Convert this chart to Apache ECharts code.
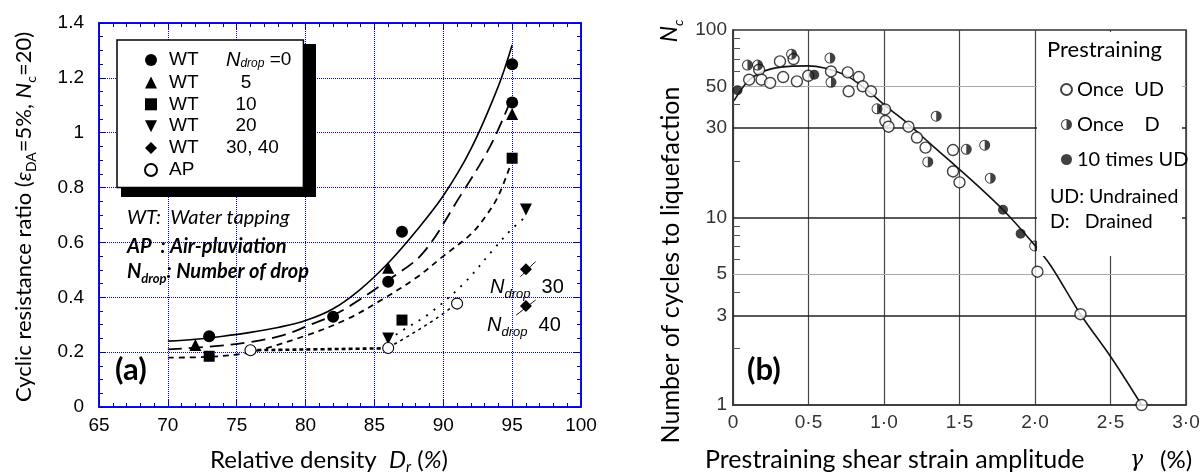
<!DOCTYPE html>
<html><head><meta charset="utf-8">
<script src="https://cdn.jsdelivr.net/npm/echarts@6/dist/echarts.min.js"></script>
<style>html,body{margin:0;padding:0;background:#fff}#c{width:1204px;height:473px}</style>
</head><body><div id="c"></div>
<script>
// ---------- Panel (a): measured points ----------
const wt0   = [[73,0.258],[82,0.329],[86,0.457],[87,0.639],[95,1.25],[95,1.11]];
const wt5   = [[72,0.226],[86,0.508],[95,1.068]];
const wt10  = [[73,0.185],[87,0.317],[95,0.907]];
const wt20  = [[86,0.25],[96,0.72]];
const wt3040 = [[96,0.502],[96,0.368]];
const apPts = [[76,0.207],[86,0.215],[91,0.377]];
// ---------- Panel (a): drawn trend curves ----------
const fitWT0  = [[70,0.24],[72,0.247],[74,0.258],[76,0.272],[78,0.29],[80,0.315],[82,0.358],[84,0.43],[86,0.525],[88,0.64],[90,0.77],[92,0.94],[94,1.17],[95,1.32]];
const fitWT5  = [[70,0.21],[73,0.22],[76,0.237],[78.4,0.262],[80.3,0.299],[82.5,0.347],[86,0.463],[88.5,0.56],[91.2,0.767],[93.4,0.95],[95,1.13]];
const fitWT10 = [[70,0.18],[73,0.183],[76,0.2],[80,0.26],[83,0.32],[85.5,0.39],[88,0.47],[90,0.55],[92,0.63],[93,0.69],[94,0.77],[95,0.9]];
const fitWT20 = [[86,0.245],[87,0.278],[89,0.341],[91.5,0.451],[93.6,0.572],[94.9,0.645],[96,0.694]];
const fitAPflat = [[76,0.207],[86,0.214]];
const fitAP   = [[86,0.216],[87.8,0.269],[89.5,0.323],[91,0.378]];
const leader30 = [[95.6,0.475],[96.7,0.53]];
const leader40 = [[95.3,0.335],[96.7,0.39]];
// ---------- Panel (b) ----------
const onceUD = [[0.107,54.3],[0.173,61.4],[0.189,54.3],[0.246,52.2],[0.311,68],[0.332,56.1],[0.401,70],[0.423,53.2],[0.498,57],[0.649,60.1],[0.76,59.4],[0.766,47.1],[0.833,56.1],[0.859,50.1],[0.914,47.1],[1.007,37.7],[1.009,32.7],[1.03,30.5],[1.162,30.5],[1.218,26.7],[1.275,23.6],[1.457,22.9],[1.457,17.6],[1.5,15.4],[2.016,5.14],[2.301,3.05],[2.706,1.0]];
const onceD  = [[0.096,65],[0.163,65],[0.388,74.3],[0.642,70.8],[0.649,52.6],[0.954,38],[1.29,19.8],[1.346,34.7],[1.545,23.1],[1.667,24.3],[1.704,16.2],[1.998,7.05]];
const tenUD  = [[0.03,47.7],[0.538,57.7],[1.788,11.0],[1.905,8.2]];
const fitNc  = [[0.007,42],[0.096,53],[0.2,60],[0.317,63.4],[0.494,64.4],[0.605,62.7],[0.76,56.6],[0.892,47.5],[1.025,38.5],[1.162,31.5],[1.3,25],[1.45,19.6],[1.62,14.8],[1.788,11],[1.95,7.9],[2.1,5.6],[2.301,3.05],[2.507,1.78],[2.706,1.0]];
// ---------- tick labels ----------
const gammaLabels = ['0','0·5','1·0','1·5','2·0','2·5','3·0'];
const ncLabels = [1,3,5,10,30,50,100];
const ncMinor = [2,4,6,7,8,9,20,40,60,70,80,90];
const ncGridDark = [30,10,3];
const ncGridLight = [50,5];

const blue = '#0000dd';
const halfPath = 'path://M10,0A10,10,0,1,1,10,20A10,10,0,1,1,10,0ZM10,1.8A8.2,8.2,0,1,0,10,18.2A8.2,8.2,0,1,0,10,1.8ZM10,1.8A8.2,8.2,0,0,1,10,18.2Z';

function lx(pos, main){
  return {gridIndex:0,type:'value',position:pos,min:65,max:100,interval:5,
    axisLine:{show:true,onZero:false,lineStyle:{color:blue,width:1.5}},
    axisTick:{show:true,inside:true,length:7,lineStyle:{color:blue,width:1}},
    minorTick:{show:true,splitNumber:5,length:4,lineStyle:{color:blue,width:1}},
    splitLine:{show:main,lineStyle:{color:'#0000ff',type:'dotted',width:1}},
    axisLabel:{show:main,color:'#000',fontSize:19,fontFamily:'Liberation Sans',margin:9}};
}
function ly(pos, main){
  return {gridIndex:0,type:'value',position:pos,min:0,max:1.4,interval:0.2,
    axisLine:{show:true,onZero:false,lineStyle:{color:blue,width:1.5}},
    axisTick:{show:true,inside:true,length:7,lineStyle:{color:blue,width:1}},
    minorTick:{show:true,splitNumber:4,length:4,lineStyle:{color:blue,width:1}},
    splitLine:{show:main,lineStyle:{color:'#0000ff',type:'dotted',width:1}},
    axisLabel:{show:main,color:'#000',fontSize:19,fontFamily:'Liberation Sans',margin:15}};
}
function sc(name,data,symbol,size,color,border){
  return {name,type:'scatter',xAxisIndex:0,yAxisIndex:0,data,symbol,symbolSize:size,z:5,
    itemStyle:{color:color,borderColor:border||color,borderWidth:border?1.1:0,opacity:1}};
}
function ln(data,type,width,xi,yi){
  return {type:'line',xAxisIndex:xi||0,yAxisIndex:yi||0,data,smooth:0.35,showSymbol:false,symbol:'none',z:3,silent:true,
    lineStyle:{color:'#000',width:width,type:type}};
}
const legendText = {
  'WT 0':'{p| }{a|WT}{n|N}{s|drop}{e| =0}',
  'WT 5':'{p| }{a|WT}{b|5}',
  'WT 10':'{p| }{a|WT}{b|10}',
  'WT 20':'{p| }{a|WT}{b|20}',
  'WT 30, 40':'{p| }{a|WT}{c|30, 40}',
  'AP':'{p| }{a|AP}'
};
const R = (o)=>Object.assign({fontFamily:'Lato',fill:'#000',color:'#000'},o);

const option = {
  animation:false,
  backgroundColor:'#fff',
  grid:[
    {left:99,top:23,width:482,height:384,show:true,borderColor:blue,borderWidth:1.5,backgroundColor:'#fff'},
    {left:733,top:30,width:453,height:375,show:true,borderColor:'#333',borderWidth:1.5,backgroundColor:'#fff'}
  ],
  xAxis:[lx('bottom',true),lx('top',false),
    {gridIndex:1,type:'value',min:0,max:3,interval:0.5,
     axisLine:{show:true,onZero:false,lineStyle:{color:'#333',width:1.5}},
     axisTick:{show:false},
     splitLine:{show:true,lineStyle:{color:'#444',width:1.2}},
     axisLabel:{color:'#333',fontSize:19,fontFamily:'Liberation Sans',margin:8,
       formatter:(v)=>gammaLabels[Math.round(v/0.5)]}}],
  yAxis:[ly('left',true),ly('right',false),
    {gridIndex:1,type:'log',logBase:10,min:1,max:100,
     axisLine:{show:true,onZero:false,lineStyle:{color:'#333',width:1.5}},
     axisTick:{show:true,inside:true,length:7,customValues:ncMinor,lineStyle:{color:'#555',width:1}},
     splitLine:{show:false},
     axisLabel:{customValues:ncLabels,color:'#333',fontSize:19,fontFamily:'Liberation Sans',margin:6}}],
  legend:[
    {data:['WT 0','WT 5','WT 10','WT 20','WT 30, 40','AP'],orient:'vertical',left:117,top:40,
     itemWidth:12,itemHeight:12,itemGap:2.9,selectedMode:false,
     padding:[10,12,8,27],backgroundColor:'#fff',borderColor:'#000',borderWidth:1.5,z:20,
     formatter:(n)=>legendText[n],
     textStyle:{fontFamily:'Liberation Sans',fontSize:19,color:'#000',
       rich:{p:{fontSize:19,width:7,lineHeight:20},a:{fontSize:19,width:57,lineHeight:20},b:{fontSize:19,width:40,align:'center',lineHeight:20},
             c:{fontSize:19,lineHeight:20},n:{fontSize:20,fontStyle:'italic',lineHeight:20},
             s:{fontSize:12,fontStyle:'italic',verticalAlign:'bottom',lineHeight:20},e:{fontSize:19,lineHeight:20}}}},
    {data:['Once  UD','Once    D','10 times UD'],orient:'vertical',left:1060,top:79,
     itemWidth:11,itemHeight:11,itemGap:14,selectedMode:false,padding:0,z:20,
     textStyle:{fontFamily:'Lato',fontSize:20,color:'#000',lineHeight:21}}
  ],
  series:[
    ln(fitWT0,'solid',1.6),
    ln(fitWT5,[14,7],1.8),
    ln(fitWT10,[6,5],1.8),
    ln(fitWT20,[2,7],1.8),
    ln(fitAPflat,[4,3],2.6),
    ln(fitAP,[3,4],1.5),
    ln(leader30,'solid',1),
    ln(leader40,'solid',1),
    sc('WT 0',wt0,'circle',12,'#000'),
    sc('WT 5',wt5,'triangle',12,'#000'),
    sc('WT 10',wt10,'rect',11,'#000'),
    sc('WT 20',wt20,'path://M0,0L10,0L5,10Z',12,'#000'),
    sc('WT 30, 40',wt3040,'diamond',12,'#000'),
    sc('AP',apPts,'circle',11,'#fff','#000'),
    {type:'line',xAxisIndex:2,yAxisIndex:2,data:fitNc,smooth:0.3,showSymbol:false,symbol:'none',z:3,silent:true,
     lineStyle:{color:'#111',width:1.6},
     markLine:{silent:true,symbol:['none','none'],label:{show:false},z:2,
       data:ncGridDark.map(v=>({yAxis:v,lineStyle:{color:'#222',width:1.5,type:'solid'}}))
         .concat(ncGridLight.map(v=>({yAxis:v,lineStyle:{color:'#aaa',width:1,type:'solid'}})))}},
    {name:'Once  UD',type:'scatter',xAxisIndex:2,yAxisIndex:2,data:onceUD,symbol:'circle',symbolSize:11,z:5,
     itemStyle:{color:'#fff',borderColor:'#111',borderWidth:1.4}},
    {name:'Once    D',type:'scatter',xAxisIndex:2,yAxisIndex:2,data:onceD,symbol:halfPath,symbolSize:11,z:5,
     itemStyle:{color:'#111'}},
    {name:'10 times UD',type:'scatter',xAxisIndex:2,yAxisIndex:2,data:tenUD,symbol:'circle',symbolSize:10,z:5,
     itemStyle:{color:'#111'}}
  ],
  graphic:[
    {type:'rect',z:10,shape:{x:1037,y:32,width:145,height:224},style:{fill:'#fff'}},
    {type:'rect',z:15,shape:{x:121,y:44,width:195,height:153},style:{fill:'#000'}},
    // panel (a) texts
    {type:'text',z:30,x:24,y:217,rotation:Math.PI/2,style:{
      text:'{r|Cyclic resistance ratio (}{i|ε}{s|DA}{r|=5%, }{i|N}{s|c}{r|=20)}',align:'center',verticalAlign:'middle',
      rich:{r:R({fontSize:22,lineHeight:28,verticalAlign:'middle'}),i:R({fontSize:22,fontStyle:'italic',lineHeight:28,verticalAlign:'middle'}),
            s:R({fontSize:14,lineHeight:28,verticalAlign:'bottom'})}}},
    {type:'text',z:30,x:329,y:460,style:{
      text:'{r|Relative density  }{i|D}{s|r}{r| (}{i|%}{r|)}',align:'center',verticalAlign:'middle',
      rich:{r:R({fontSize:24,lineHeight:30,verticalAlign:'middle'}),i:R({fontSize:24,fontStyle:'italic',lineHeight:30,verticalAlign:'middle'}),
            s:R({fontSize:15,fontStyle:'italic',lineHeight:30,verticalAlign:'bottom'})}}},
    {type:'text',z:30,x:127,y:218,style:{text:'WT:  Water tapping',fontFamily:'Lato',fontSize:20,fontStyle:'italic',fill:'#000',align:'left',verticalAlign:'middle'}},
    {type:'text',z:30,x:127,y:247,style:{text:'AP  : Air-pluviation',fontFamily:'Lato',fontSize:20,fontStyle:'italic',fontWeight:'bold',fill:'#000',align:'left',verticalAlign:'middle'}},
    {type:'text',z:30,x:127,y:272,style:{text:'{b|N}{s|drop}{b|: Number of drop}',align:'left',verticalAlign:'middle',
      rich:{b:R({fontSize:20,fontStyle:'italic',fontWeight:'bold',lineHeight:26,verticalAlign:'middle'}),
            s:R({fontSize:13,fontStyle:'italic',fontWeight:'bold',lineHeight:26,verticalAlign:'bottom'})}}},
    {type:'text',z:30,x:115,y:370,style:{text:'(a)',fontFamily:'Lato',fontSize:31,fontWeight:'bold',fill:'#000',align:'left',verticalAlign:'middle'}},
    {type:'text',z:30,x:490,y:287,style:{text:'{i|N}{s|drop}{r|  30}',align:'left',verticalAlign:'middle',
      rich:{i:R({fontFamily:'Liberation Sans',fontSize:20,fontStyle:'italic',lineHeight:28,verticalAlign:'middle'}),
            s:R({fontFamily:'Liberation Sans',fontSize:13,fontStyle:'italic',lineHeight:28,verticalAlign:'bottom'}),
            r:R({fontFamily:'Liberation Sans',fontSize:20,lineHeight:28,verticalAlign:'middle'})}}},
    {type:'text',z:30,x:487,y:325,style:{text:'{i|N}{s|drop}{r|  40}',align:'left',verticalAlign:'middle',
      rich:{i:R({fontFamily:'Liberation Sans',fontSize:20,fontStyle:'italic',lineHeight:28,verticalAlign:'middle'}),
            s:R({fontFamily:'Liberation Sans',fontSize:13,fontStyle:'italic',lineHeight:28,verticalAlign:'bottom'}),
            r:R({fontFamily:'Liberation Sans',fontSize:20,lineHeight:28,verticalAlign:'middle'})}}},
    // panel (b) texts
    {type:'text',z:30,x:1047,y:50,style:{text:'Prestraining',fontFamily:'Lato',fontSize:22,fill:'#000',align:'left',verticalAlign:'middle'}},
    {type:'text',z:30,x:1050,y:197,style:{text:'UD: Undrained',fontFamily:'Lato',fontSize:19.5,fill:'#000',align:'left',verticalAlign:'middle'}},
    {type:'text',z:30,x:1050,y:222,style:{text:'D:   Drained',fontFamily:'Lato',fontSize:19.5,fill:'#000',align:'left',verticalAlign:'middle'}},
    {type:'text',z:30,x:747,y:370,style:{text:'(b)',fontFamily:'Lato',fontSize:31,fontWeight:'bold',fill:'#000',align:'left',verticalAlign:'middle'}},
    {type:'text',z:30,x:670,y:31,rotation:Math.PI/2,style:{text:'{i|N}{s|c}',align:'center',verticalAlign:'middle',
      rich:{i:R({fontSize:23,fontStyle:'italic',lineHeight:30,verticalAlign:'middle'}),s:R({fontSize:14,fontStyle:'italic',lineHeight:30,verticalAlign:'bottom'})}}},
    {type:'text',z:30,x:671,y:265,rotation:Math.PI/2,style:{text:'Number of cycles to liquefaction',fontFamily:'Lato',fontSize:25,fill:'#000',align:'center',verticalAlign:'middle'}},
    {type:'text',z:30,x:705,y:460,style:{text:'Prestraining shear strain amplitude',fontFamily:'Lato',fontSize:25,fill:'#000',align:'left',verticalAlign:'middle'}},
    {type:'text',z:30,x:1130,y:460,style:{text:'γ',fontFamily:'DejaVu Serif',fontSize:22,fontStyle:'italic',fill:'#000',align:'left',verticalAlign:'middle'}},
    {type:'text',z:30,x:1160,y:460,style:{text:'(%)',fontFamily:'Lato',fontSize:24,fill:'#000',align:'left',verticalAlign:'middle'}}
  ]
};
const chart = echarts.init(document.getElementById('c'));
chart.setOption(option);
</script></body></html>
